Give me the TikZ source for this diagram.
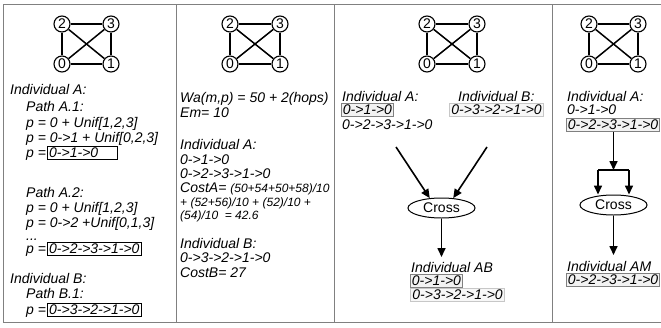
\documentclass[tikz,border=0pt]{standalone}
\usepackage{fontspec}
\setmainfont{Liberation Sans}
\usetikzlibrary{shapes.geometric,arrows.meta}
\newcommand\kfourgraph[3]{%
  \node[vtx] (#1n2) at (#2,24) {2};
  \node[vtx] (#1n3) at (#3,24) {3};
  \node[vtx] (#1n0) at (#2,64) {0};
  \node[vtx] (#1n1) at (#3,64) {1};
  \draw[gedge] (#1n2) -- (#1n3);
  \draw[gedge] (#1n0) -- (#1n1);
  \draw[gedge] (#1n2) -- (#1n0);
  \draw[gedge] (#1n3) -- (#1n1);
  \draw[gedge] (#1n2) -- (#1n1);
  \draw[gedge] (#1n3) -- (#1n0);
}
\begin{document}
\begin{tikzpicture}[x=1pt,y=-1pt,
  txt/.style={anchor=base west, inner sep=0pt, font=\fontsize{14}{16}\selectfont\itshape},
  smalltxt/.style={anchor=base west, inner sep=0pt, font=\fontsize{12}{13}\selectfont\itshape},
  bbox/.style={draw=black, line width=0.9pt, anchor=base west, inner xsep=1.5pt, inner ysep=1pt,
    text height=10pt, text depth=1.5pt, align=left, font=\fontsize{14}{16}\selectfont\itshape},
  gbox/.style={draw=black!50, fill=black!5, line width=0.9pt, anchor=base west, inner xsep=1.5pt, inner ysep=1pt,
    text height=10pt, text depth=1.5pt, font=\fontsize{14}{16}\selectfont\itshape},
  lbox/.style={draw=black!22, fill=black!3, line width=0.9pt, anchor=base west, inner xsep=2pt, inner ysep=1pt,
    text height=10pt, text depth=1.5pt, font=\fontsize{14}{16}\selectfont\itshape},
  vtx/.style={circle, draw, fill=white, line width=1.1pt, minimum size=16pt, inner sep=0pt,
    font=\fontsize{14}{16}\selectfont},
  gedge/.style={line width=1.5pt},
  arr/.style={line width=1.6pt, -{Triangle[length=9pt,width=8pt]}},
  framel/.style={draw=black!50, line width=1pt},
  crossnode/.style={ellipse, draw, line width=1pt, minimum width=67pt, minimum height=20pt,
    inner sep=0pt, font=\fontsize{14}{16}\selectfont}
]
\useasboundingbox (0,0) rectangle (661,327);
% frame
\draw[framel] (661,4) -- (3.5,4) -- (3.5,322.5) -- (661,322.5);
\draw[framel] (176,4) -- (176,322.5);
\draw[framel] (334,4) -- (334,322.5);
\draw[framel] (552.5,4) -- (552.5,322.5);

% graphs
\kfourgraph{g1}{62}{111}
\kfourgraph{g2}{230}{280}
\kfourgraph{g3}{427}{477}
\kfourgraph{g4}{589}{638}

% panel 1
\node[txt] (p1ia) at (10,94) {Individual A:};
\node[txt] (p1pa1) at (26,111) {Path A.1:};
\node[txt] (p1l1) at (26,127) {p = 0 + Unif[1,2,3]};
\node[txt] (p1l2) at (26,142) {p = 0->1 + Unif[0,2,3]};
\node[txt] (p1l3) at (26,157) {p =};
\node[bbox, text width=67pt] (p1b1) at ([xshift=1pt]p1l3.base east) {\mbox{0->1->0}};
\node[txt] (p1pa2) at (26,197) {Path A.2:};
\node[txt] (p1l4) at (26,212) {p = 0 + Unif[1,2,3]};
\node[txt] (p1l5) at (26,227) {p = 0->2 +Unif[0,1,3]};
\node[txt] (p1dots) at (26,240) {...};
\node[txt] (p1l6) at (26,253) {p =};
\node[bbox, text width=90.5pt] (p1b2) at ([xshift=1pt]p1l6.base east) {\mbox{0->2->3->1->0}};
\node[txt] (p1ib) at (10,283) {Individual B:};
\node[txt] (p1pb1) at (26,298) {Path B.1:};
\node[txt] (p1l7) at (26,314) {p =};
\node[bbox, text width=90.5pt] (p1b3) at ([xshift=1pt]p1l7.base east) {\mbox{0->3->2->1->0}};

% panel 2
\node[txt] (p2wa) at (180,102) {Wa(m,p) = 50 + 2(hops)};
\node[txt] (p2em) at (180,117) {Em= 10};
\node[txt] (p2ia) at (180,149) {Individual A:};
\node[txt] (p2a1) at (180,164) {0->1->0};
\node[txt] (p2a2) at (180,178) {0->2->3->1->0};
\node[txt] (p2ca) at (180,192) {CostA= \fontsize{12}{13}\selectfont(50+54+50+58)/10};
\node[smalltxt] (p2ca2) at (180,206) {+ (52+56)/10 + (52)/10 +};
\node[smalltxt] (p2ca3) at (180,219) {(54)/10 \ = 42.6};
\node[txt] (p2ib) at (180,248) {Individual B:};
\node[txt] (p2b1) at (180,262) {0->3->2->1->0};
\node[txt] (p2cb) at (180,277) {CostB= 27};

% panel 3
\node[txt] (p3ia) at (342,101) {Individual A:};
\node[gbox] (p3a1) at (341,114) {0->1->0};
\node[txt] (p3a2) at (342,129) {0->2->3->1->0};
\node[txt] (p3ib) at (458,101) {Individual B:};
\node[lbox] (p3b1) at (449,114) {0->3->2->1->0};
\node[crossnode] (cross3) at (441.5,208) {Cross};
\coordinate (p3fa) at (396,147);
\coordinate (p3fb) at (487,147);
\draw[arr] (p3fa) -- (cross3.140);
\draw[arr] (p3fb) -- (cross3.40);
\coordinate (p3out) at (441.5,257);
\draw[arr] (cross3.south) -- (p3out);
\node[txt] (p3iab) at (411,272) {Individual AB};
\node[gbox] (p3ab1) at (410,285) {0->1->0};
\node[lbox] (p3ab2) at (410,299) {0->3->2->1->0};

% panel 4
\node[txt] (p4ia) at (567,101) {Individual A:};
\node[txt] (p4a1) at (567,114) {0->1->0};
\node[gbox] (p4a2) at (566,129) {0->2->3->1->0};
\node[crossnode] (cross4) at (613.5,205) {Cross};
\coordinate (p4split) at (613.5,170);
\coordinate (p4sl) at (598,170);
\coordinate (p4sr) at (629,170);
\draw[arr] (p4a2.south -| cross4) -- (p4split);
\draw[gedge] (p4sl) -- (p4sr);
\draw[arr] (p4sl) -- (p4sl |- cross4.north);
\draw[arr] (p4sr) -- (p4sr |- cross4.north);
\coordinate (p4out) at (613.5,255);
\draw[arr] (cross4.south) -- (p4out);
\node[txt] (p4iam) at (567,271) {Individual AM};
\node[gbox] (p4am1) at (566,284) {0->2->3->1->0};
\end{tikzpicture}
\end{document}
